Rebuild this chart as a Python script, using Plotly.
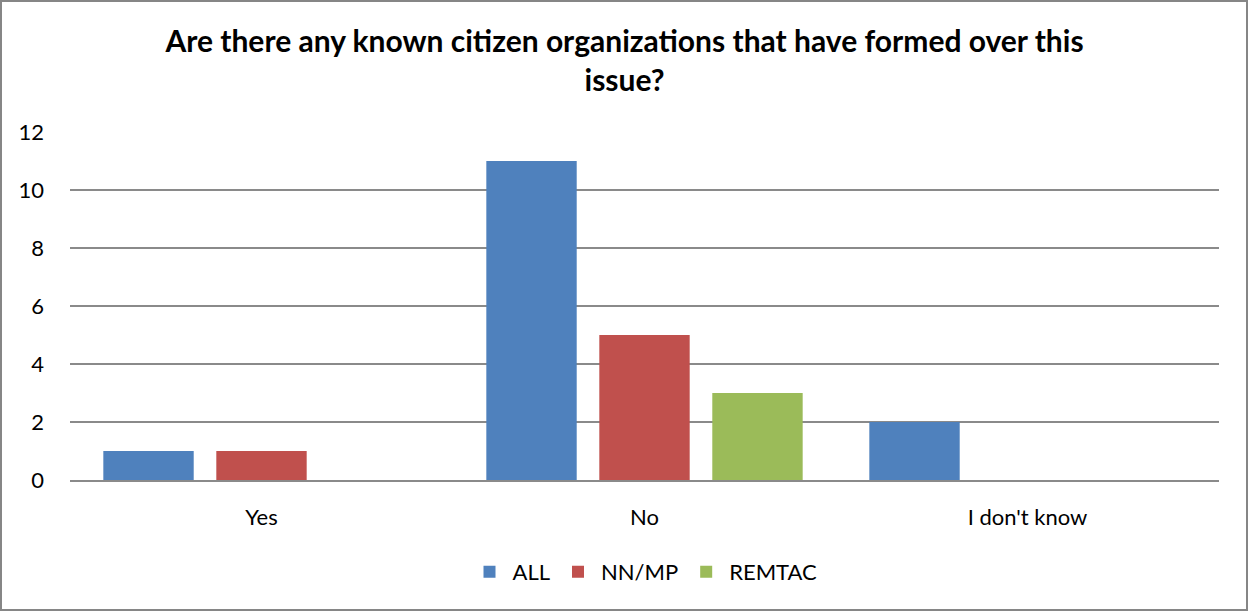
import plotly.graph_objects as go

categories = ["Yes", "No", "I don't know"]
series_names = ["ALL", "NN/MP", "REMTAC"]
all_vals = [1, 11, 2]
nnmp_vals = [1, 5, 0]
remtac_vals = [0, 3, 0]
colors = ["#4F81BD", "#C0504D", "#9BBB59"]

title = "Are there any known citizen organizations that have formed over this<br>issue?"

fig = go.Figure()
for name, vals, col in zip(series_names, [all_vals, nnmp_vals, remtac_vals], colors):
    fig.add_trace(go.Bar(x=categories, y=vals, name=name, marker_color=col,
                         marker_line_width=0))

font_family = "Lato, Open Sans, sans-serif"

fig.update_layout(
    width=1249, height=612,
    paper_bgcolor="white", plot_bgcolor="white",
    margin=dict(l=70, r=30, t=132, b=132),
    barmode="group", bargap=0.115, bargroupgap=0.2,
    font=dict(family=font_family, size=22, color="black"),
    title=dict(text="<b>" + title + "</b>", x=0.5, xanchor="center",
               y=0.915, yanchor="middle",
               font=dict(family=font_family, size=30, color="black")),
    showlegend=True,
    legend=dict(orientation="h", x=0.5, xanchor="center", y=-0.264, yanchor="middle",
                font=dict(size=22), traceorder="normal", itemwidth=36),
)
fig.update_yaxes(range=[0, 12], dtick=2, showgrid=True, gridcolor="#8A8A8A",
                 gridwidth=1.5, zeroline=False, showline=False, ticks="",
                 ticklabelstandoff=25)
fig.update_xaxes(showline=True, linecolor="#8A8A8A", linewidth=2, ticks="",
                 ticklabelstandoff=17)

# outer chart border
fig.add_shape(type="rect", xref="paper", yref="paper",
              x0=-69/1149, x1=1177/1149, y0=-130/348, y1=1 + 131/348,
              line=dict(color="#868686", width=2), fillcolor="rgba(0,0,0,0)", layer="below")

fig.write_html("out.html", config={"displayModeBar": False},
               post_script="document.body.style.margin='0';")
